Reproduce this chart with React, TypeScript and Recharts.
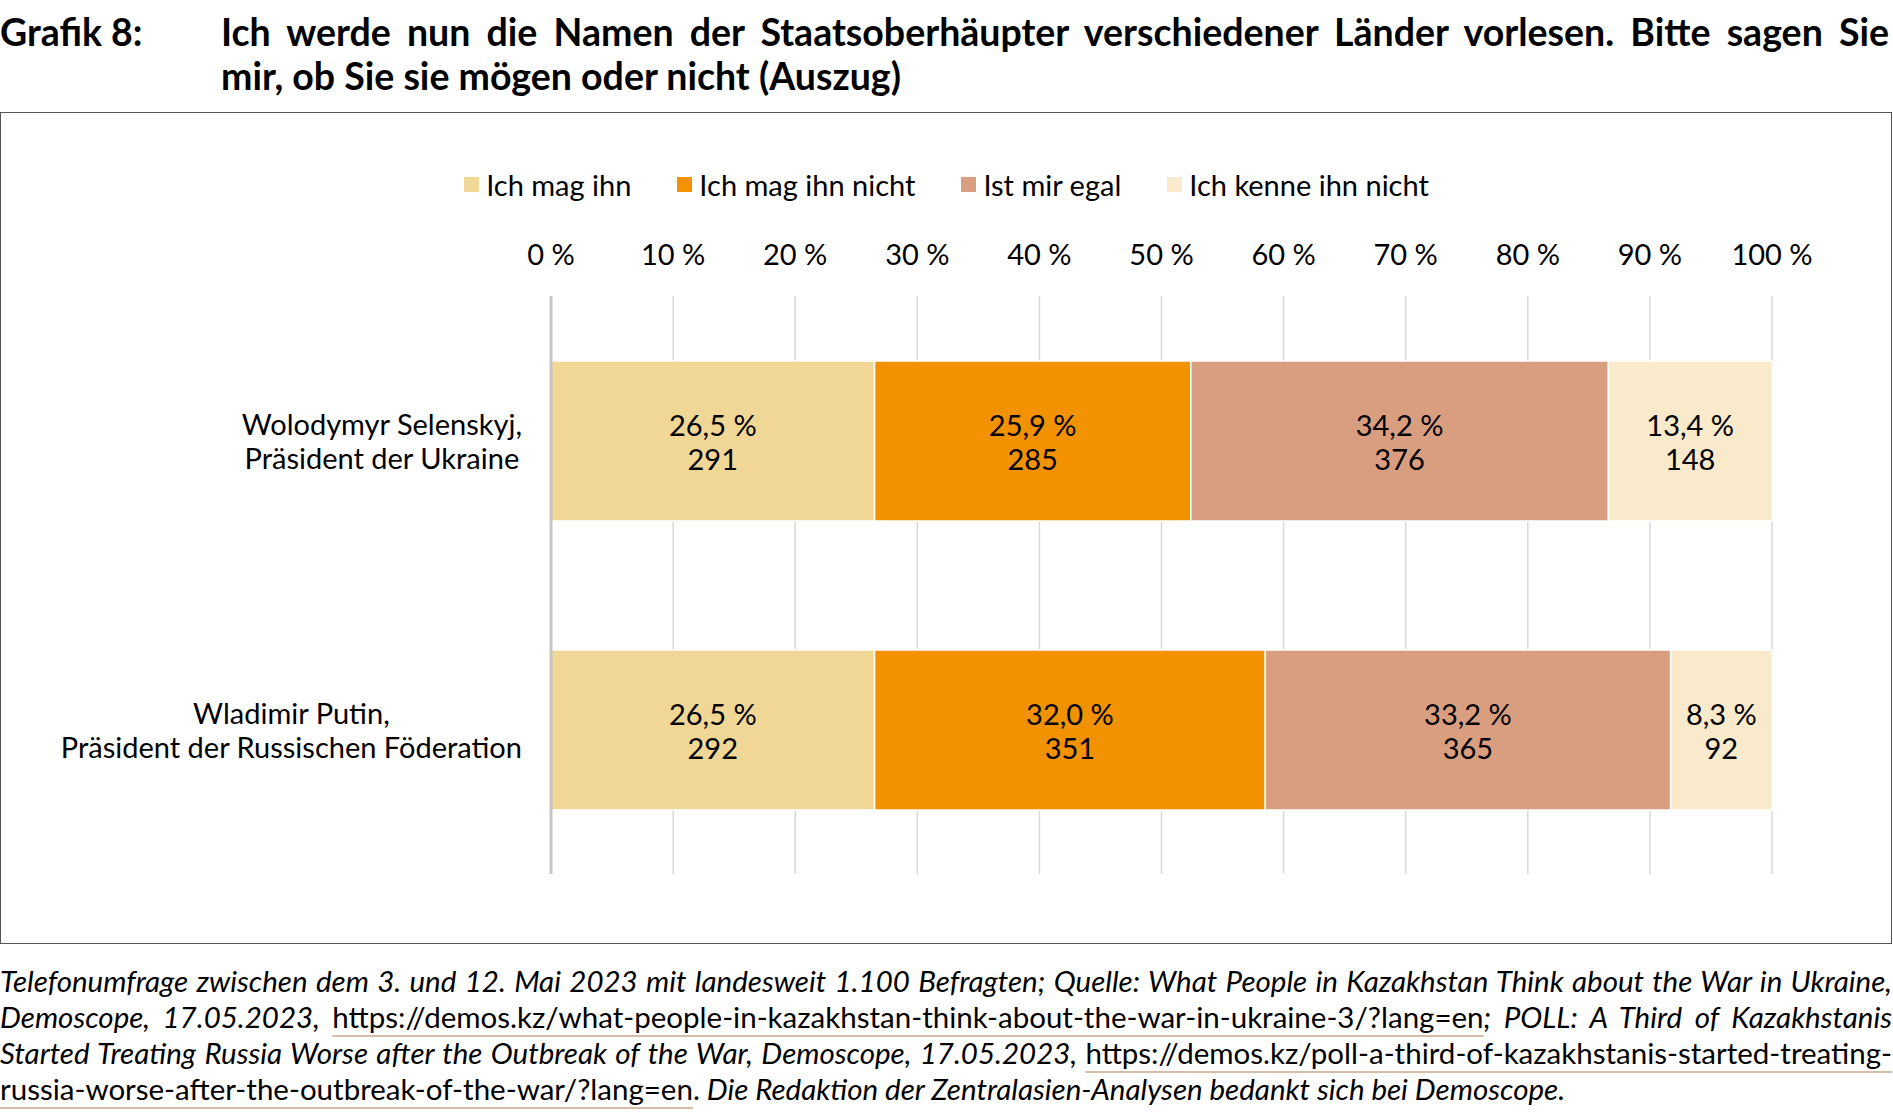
import { BarChart, Bar, XAxis, YAxis, CartesianGrid, Legend, LabelList } from 'recharts';

const categories = [
  'Wolodymyr Selenskyj,\nPräsident der Ukraine',
  'Wladimir Putin,\nPräsident der Russischen Föderation',
];
const likePct = [26.5, 26.5];
const likeCount = [291, 292];
const dislikePct = [25.9, 32.0];
const dislikeCount = [285, 351];
const indifferentPct = [34.2, 33.2];
const indifferentCount = [376, 365];
const unknownPct = [13.4, 8.3];
const unknownCount = [148, 92];
const xTicks = [0, 10, 20, 30, 40, 50, 60, 70, 80, 90, 100];

const SERIES = [
  { key: 'like', name: 'Ich mag ihn', color: '#F0D796', pct: likePct, count: likeCount },
  { key: 'dislike', name: 'Ich mag ihn nicht', color: '#F39200', pct: dislikePct, count: dislikeCount },
  { key: 'indifferent', name: 'Ist mir egal', color: '#D99E80', pct: indifferentPct, count: indifferentCount },
  { key: 'unknown', name: 'Ich kenne ihn nicht', color: '#F8EACB', pct: unknownPct, count: unknownCount },
];

const data = categories.map((name, i) => {
  const row: Record<string, string | number> = { name };
  SERIES.forEach((s) => { row[s.key] = s.pct[i]; });
  return row;
});

const FONT = 'Lato, "Open Sans", sans-serif';
const FS = 29;
const fmtPct = (v: number) => `${v.toFixed(1).replace('.', ',')} %`;

function CategoryTick({ x, y, payload }: any) {
  const lines = String(payload.value).split('\n');
  return (
    <foreignObject x={x - 520} y={y - 40} width={520} height={80}>
      <div style={{ display: 'flex', justifyContent: 'flex-end', alignItems: 'center', height: 80 }}>
        <div style={{ textAlign: 'center', fontFamily: FONT, fontSize: FS, lineHeight: '34px', color: '#000', whiteSpace: 'nowrap' }}>
          {lines.map((l) => <div key={l}>{l}</div>)}
        </div>
      </div>
    </foreignObject>
  );
}

function makeLabel(counts: number[]) {
  return (props: any) => {
    const vb = props.viewBox ?? props;
    const cx = vb.x + vb.width / 2;
    const cy = vb.y + vb.height / 2;
    const idx = props.index ?? 0;
    return (
      <g fontFamily={FONT} fontSize={FS} fill="#000" textAnchor="middle">
        <text x={cx} y={cy - 17} dominantBaseline="central">{fmtPct(Number(props.value))}</text>
        <text x={cx} y={cy + 17} dominantBaseline="central">{counts[idx]}</text>
      </g>
    );
  };
}

function LegendContent() {
  return (
    <div style={{ display: 'flex', justifyContent: 'center', alignItems: 'center', height: 40, gap: 46, fontFamily: FONT, fontSize: FS, color: '#000' }}>
      {SERIES.map((s) => (
        <div key={s.key} style={{ display: 'flex', alignItems: 'center', gap: 7 }}>
          <span style={{ width: 15, height: 15, background: s.color, display: 'inline-block' }} />
          <span>{s.name}</span>
        </div>
      ))}
    </div>
  );
}

const underline = {
  textDecoration: 'underline',
  textDecorationColor: '#D6BBA6',
  textDecorationThickness: 2,
  textUnderlineOffset: 7,
  fontStyle: 'normal' as const,
};

const lineStyle = { textAlign: 'justify' as const, textAlignLast: 'justify' as const, height: 36, lineHeight: '36px' };
const titleLine = { textAlign: 'justify' as const, textAlignLast: 'justify' as const, whiteSpace: 'nowrap' as const };

export default function App() {
  return (
    <div style={{ position: 'absolute', left: 0, top: 0, width: 1893, height: 1117, background: '#fff', fontFamily: FONT, color: '#000' }}>
      <div style={{ position: 'absolute', left: 0, top: 10, fontSize: 37.5, fontWeight: 700, lineHeight: '44px' }}>Grafik 8:</div>
      <div style={{ position: 'absolute', left: 221, top: 10, width: 1668, fontSize: 37.5, fontWeight: 700, lineHeight: '44px' }}>
        <div style={titleLine}>Ich werde nun die Namen der Staatsoberhäupter verschiedener Länder vorlesen. Bitte sagen Sie</div>
        <div>mir, ob Sie sie mögen oder nicht (Auszug)</div>
      </div>

      <div style={{ position: 'absolute', left: 0, top: 112, width: 1893, height: 832 }}>
        <BarChart
          width={1893}
          height={832}
          data={data}
          layout="vertical"
          margin={{ top: 84, right: 121, bottom: 70, left: 0 }}
          style={{ fontFamily: FONT }}
        >
          <CartesianGrid vertical horizontal={false} stroke="#D9D9D9" strokeWidth={1.5} />
          <XAxis
            type="number"
            orientation="top"
            domain={[0, 100]}
            ticks={xTicks}
            tickFormatter={(v: number) => `${v} %`}
            axisLine={false}
            tickLine={false}
            height={60}
            tickMargin={25}
            tick={{ fontSize: FS, fill: '#000', fontFamily: FONT }}
          />
          <YAxis
            type="category"
            dataKey="name"
            width={551}
            axisLine={{ stroke: '#C6C6C6', strokeWidth: 3 }}
            tickLine={false}
            tickMargin={23}
            tick={<CategoryTick />}
          />
          <Legend verticalAlign="top" content={<LegendContent />} wrapperStyle={{ top: 52, left: 0, width: 1893 }} />
          {SERIES.map((s) => (
            <Bar key={s.key} dataKey={s.key} name={s.name} stackId="a" fill={s.color} stroke="#fff" strokeWidth={1.5} barSize={160} isAnimationActive={false}>
              <LabelList dataKey={s.key} content={makeLabel(s.count)} />
            </Bar>
          ))}
        </BarChart>
      </div>
      <div style={{ position: 'absolute', left: 0, top: 112, width: 1890, height: 830, border: '1.5px solid #555', pointerEvents: 'none' }} />

      <div style={{ position: 'absolute', left: 0, top: 963, width: 1892, fontSize: 29.5, fontStyle: 'italic' }}>
        <div style={lineStyle}>
          Telefonumfrage zwischen dem 3. und 12. Mai 2023 mit landesweit 1.100 Befragten; Quelle: What People in Kazakhstan Think about the War in Ukraine,
        </div>
        <div style={lineStyle}>
          Demoscope, 17.05.2023, <span style={underline}>https://demos.kz/what-people-in-kazakhstan-think-about-the-war-in-ukraine-3/?lang=en</span>; POLL: A Third of Kazakhstanis
        </div>
        <div style={lineStyle}>
          Started Treating Russia Worse after the Outbreak of the War, Demoscope, 17.05.2023, <span style={underline}>https://demos.kz/poll-a-third-of-kazakhstanis-started-treating-</span>
        </div>
        <div style={{ ...lineStyle, textAlignLast: 'left' }}>
          <span style={underline}>russia-worse-after-the-outbreak-of-the-war/?lang=en</span><span style={{ fontStyle: 'normal' }}>.</span> Die Redaktion der Zentralasien-Analysen bedankt sich bei Demoscope.
        </div>
      </div>
    </div>
  );
}
